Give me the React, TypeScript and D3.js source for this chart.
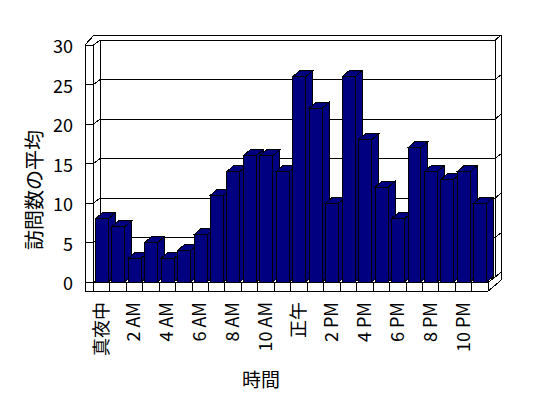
import React from "react";
import * as d3 from "d3";

const hours = d3.range(24);
const values = [8, 7, 3, 5, 3, 4, 6, 11, 14, 16, 16, 14, 26, 22, 10, 26, 18, 12, 8, 17, 14, 13, 14, 10];
const xLabels = ["真夜中", "", "2 AM", "", "4 AM", "", "6 AM", "", "8 AM", "", "10 AM", "", "正午", "", "2 PM", "", "4 PM", "", "6 PM", "", "8 PM", "", "10 PM", ""];
const yTicks = [0, 5, 10, 15, 20, 25, 30];
const yTitle = "訪問数の平均";
const xTitle = "時間";

const W = 548, H = 398;
const FONT = "'Noto Sans CJK JP', 'DejaVu Sans', sans-serif";

export default function App() {
  const x = d3.scaleBand<number>().domain(hours).range([93.3, 488.3]).padding(0);
  const yF = d3.scaleLinear().domain([0, 30]).range([282, 45]);
  const bdx = 7, bdy = -5;
  const yB = (v: number) => yF(v) + bdy;
  const dx = 7, dy = -6;
  const navy = "#000080";
  const st = { stroke: "#000", strokeWidth: 1, fill: "none" } as const;

  const x0 = 85;
  const xi = x.range()[0];
  const xr = x.range()[1];
  const floorBottom = 291;
  const top30F = yF(30);
  const top30B = yB(30);

  const pts = (a: number[][]) => a.map((p) => p.join(",")).join(" ");

  return (
    <svg width={W} height={H} style={{ position: "absolute", left: 0, top: 0, background: "#fff" }} shapeRendering="crispEdges">
      <rect x={0} y={0} width={W} height={H} fill="#fff" />
      <line x1={x0} y1={top30F} x2={x0 + 9} y2={top30F - 10} {...st} />
      <line x1={x0 + 9} y1={top30F - 10} x2={xr + 13} y2={top30F - 10} {...st} />
      <line x1={xi} y1={top30F} x2={xi + bdx} y2={top30B} {...st} />
      <line x1={xi + bdx} y1={top30B} x2={xr + bdx} y2={top30B} {...st} />
      <line x1={xr + bdx} y1={top30B} x2={xr + 13} y2={top30F - 10} {...st} />
      <line x1={xr + bdx} y1={top30B} x2={xr + bdx} y2={yB(0)} {...st} />
      <line x1={xr + 13} y1={top30F - 10} x2={xr + 13} y2={floorBottom - 11} {...st} />
      <line x1={x0} y1={top30F} x2={x0} y2={floorBottom} {...st} />
      <line x1={xi} y1={top30F} x2={xi} y2={yF(0)} {...st} />
      <line x1={xi + bdx} y1={top30B} x2={xi + bdx} y2={yB(0)} {...st} />
      {yTicks.map((t) => (
        <g key={t}>
          <line x1={x0} y1={yF(t)} x2={xi} y2={yF(t)} {...st} />
          <line x1={xi} y1={yF(t)} x2={xi + bdx} y2={yB(t)} {...st} />
          <line x1={xi + bdx} y1={yB(t)} x2={xr + bdx} y2={yB(t)} {...st} />
          <line x1={xr + bdx} y1={yB(t)} x2={xr + 13} y2={yB(t) - 5} {...st} />
        </g>
      ))}
      <line x1={xi} y1={yF(0)} x2={xr} y2={yF(0)} {...st} />
      <line x1={x0} y1={floorBottom} x2={xr} y2={floorBottom} {...st} />
      <line x1={xr} y1={yF(0)} x2={xr} y2={floorBottom} {...st} />
      <line x1={xr} y1={yF(0)} x2={xr + bdx} y2={yB(0)} {...st} />
      <line x1={xr} y1={floorBottom} x2={xr + 13} y2={floorBottom - 11} {...st} />
      {hours.map((h) => (
        <line key={h} x1={x(h)!} y1={yF(0)} x2={x(h)!} y2={floorBottom} {...st} />
      ))}
      {hours.map((h, i) => {
        const bx = x(h)! + 2;
        const bw = x.bandwidth() - 3.5;
        const yt = yF(values[i]);
        const yb = yF(0);
        return (
          <g key={h} stroke="#000" strokeWidth={1} fill={navy}>
            <polygon points={pts([[bx + bw, yt], [bx + bw + dx, yt + dy], [bx + bw + dx, yb + dy], [bx + bw, yb]])} />
            <polygon points={pts([[bx, yt], [bx + dx, yt + dy], [bx + bw + dx, yt + dy], [bx + bw, yt]])} />
            <rect x={bx} y={yt} width={bw} height={yb - yt} />
          </g>
        );
      })}
      {yTicks.map((t) => (
        <text key={t} x={73} y={yF(t)} textAnchor="end" dominantBaseline="central" fontSize={18} fontFamily={FONT} fill="#000">
          {t}
        </text>
      ))}
      {hours.map((h, i) =>
        xLabels[i] ? (
          <text
            key={h}
            transform={`translate(${x(h)! + x.bandwidth() / 2 - 2},${302}) rotate(-90)`}
            textAnchor="end"
            dominantBaseline="central"
            fontSize={18}
            fontFamily={FONT}
            fill="#000"
          >
            {xLabels[i]}
          </text>
        ) : null
      )}
      <text transform={`translate(33,190) rotate(-90)`} textAnchor="middle" dominantBaseline="central" fontSize={20} fontFamily={FONT} fill="#000">
        {yTitle}
      </text>
      <text x={261} y={378} textAnchor="middle" dominantBaseline="central" fontSize={19} fontFamily={FONT} fill="#000">
        {xTitle}
      </text>
    </svg>
  );
}
